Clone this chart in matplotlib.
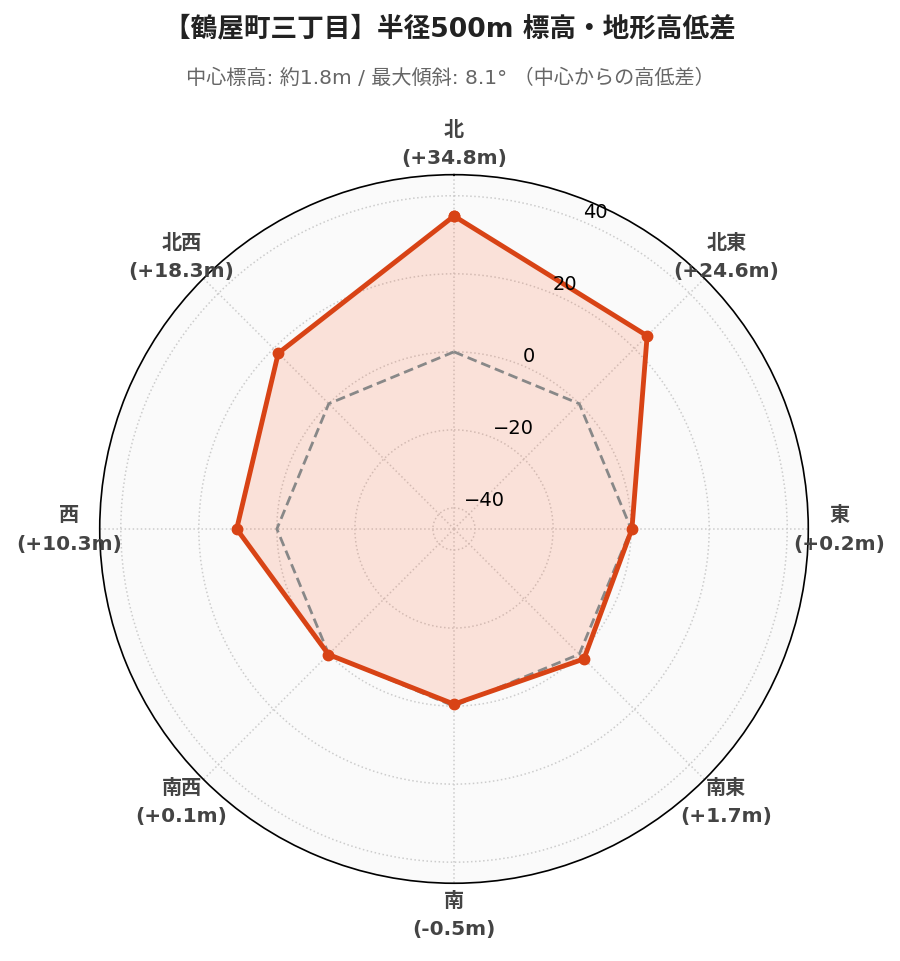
import numpy as np
import matplotlib
matplotlib.use("Agg")
import matplotlib.pyplot as plt

plt.rcParams['font.family'] = ['DejaVu Sans', 'Noto Sans CJK JP']

# data
directions = ['北', '北東', '東', '南東', '南', '南西', '西', '北西']
diffs = [34.8, 24.6, 0.2, 1.7, -0.5, 0.1, 10.3, 18.3]
rticks = [-40, -20, 0, 20, 40]
rmax = 45.4

title = '【鶴屋町三丁目】半径500m 標高・地形高低差'
subtitle = '中心標高: 約1.8m / 最大傾斜: 8.1° （中心からの高低差）'

line_color = '#d84315'
fill_color = '#ff5722'

fig = plt.figure(figsize=(9, 9.62), dpi=100)
ax = fig.add_axes([0.1108, 0.0808, 0.7873, 0.7366], projection='polar')
ax.set_theta_zero_location('N')
ax.set_theta_direction(-1)
ax.set_facecolor('#fafafa')

angles = np.linspace(0, 2 * np.pi, len(directions), endpoint=False)
theta = np.append(angles, angles[0])
vals = np.append(diffs, diffs[0])

# zero reference (centre elevation)
ax.plot(theta, np.zeros_like(theta), color='#888888', linestyle='--',
        linewidth=2, dashes=(3.5, 1.8), zorder=3)

ax.fill(theta, vals, color=fill_color, alpha=0.15, zorder=2)
ax.plot(theta, vals, color=line_color, linewidth=3.5, marker='o',
        markersize=7.5, zorder=4)

ax.set_ylim(-rmax, rmax)
ax.set_yticks(rticks)
ax.set_yticklabels([])
ax.set_xticks(angles)
ax.set_xticklabels([])
ax.grid(color='#cccccc', linestyle=':', linewidth=1.1)
ax.spines['polar'].set_color('black')
ax.spines['polar'].set_linewidth(1.2)

# radial tick labels
label_angle = np.deg2rad(22.5)
for v in rticks:
    ax.annotate(f"{v}".replace('-', '\u2212'), xy=(label_angle, v),
                xytext=(1, 0), textcoords='offset points',
                ha='left', va='bottom', fontsize=14, color='black',
                zorder=5)

# direction labels, ~30px outside the circle
r_lab = rmax + 2 * rmax * 31 / 354
for a, name, d in zip(angles, directions, diffs):
    ax.text(a, r_lab, f"{name}\n({d:+.1f}m)", ha='center', va='center',
            fontsize=14.5, fontweight='bold', color='#444444',
            linespacing=1.62)

fig.text(0.5, 1 - 29 / 962, title, ha='center', va='center',
         fontsize=19.2, fontweight='bold', color='#222222')
fig.text(0.5, 1 - 78 / 962, subtitle, ha='center', va='center',
         fontsize=14.5, color='#666666')

fig.savefig('out.png', dpi=100)
